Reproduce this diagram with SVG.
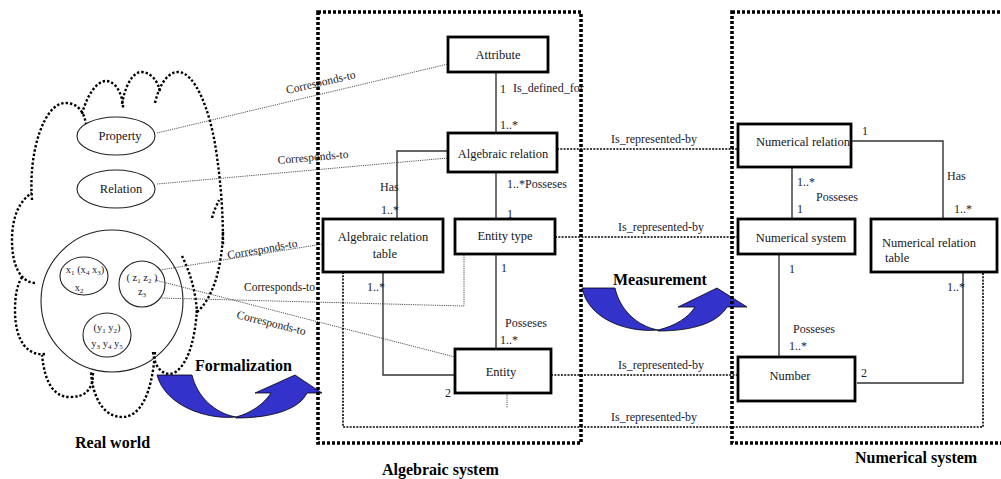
<svg xmlns="http://www.w3.org/2000/svg" width="1001" height="479" viewBox="0 0 1001 479">
  <style>
    .box { fill: none; stroke: #000; stroke-width: 2.8; }
    .node { font-family: "Liberation Serif", serif; font-size: 12.5px; fill: #151520; text-anchor: middle; }
    .lbl { font-family: "Liberation Serif", serif; font-size: 12px; fill: #1a1a30; }
    .corr-t { font-family: "Liberation Serif", serif; font-size: 11.5px; fill: #222; }
    .var { font-family: "Liberation Serif", serif; font-size: 10.5px; fill: #1a1a30; text-anchor: middle; }
    .sub { font-size: 7px; }
    .title { font-family: "Liberation Serif", serif; font-weight: bold; font-size: 16px; fill: #000; }
    .frame { fill: none; stroke: #000; stroke-width: 3.6; stroke-dasharray: 3 2; }
    .cloud { fill: none; stroke: #000; stroke-width: 2.4; stroke-dasharray: 2.4 2; }
    .ring { fill: none; stroke: #222; stroke-width: 1.1; }
    .assoc { fill: none; stroke: #333; stroke-width: 1.4; }
    .rep { fill: none; stroke: #000; stroke-width: 1.6; stroke-dasharray: 2 1.3; }
    .corr { fill: none; stroke: #555; stroke-width: 1; stroke-dasharray: 1.2 1; }
    .flow { fill: #3333cc; stroke: #000; stroke-width: 0.8; }
  </style>

  <!-- Real world cloud -->
  <g id="real-world">
    <path class="cloud" d="M32,200 C28,150 45,103 65,103 C78,103 84,112 86,124"/>
    <path class="cloud" d="M82,114 C88,92 98,81 106,81 C116,81 123,95 123,108"/>
    <path class="cloud" d="M122,104 C125,86 133,72 141,72 C150,72 158,80 160,92"/>
    <path class="cloud" d="M155,103 C160,82 169,72 178,72 C195,72 210,110 216,150 C222,190 223,220 223,245"/>
    <path class="cloud" d="M212,218 C214,210 217,205 219,200"/>
    <path class="cloud" d="M223,232 C222,268 213,298 197,312"/>
    <path class="cloud" d="M182,256 C190,272 196,292 197,313"/>
    <path class="cloud" d="M153,352 C155,372 168,378 177,371 C190,360 195,336 197,310"/>
    <path class="cloud" d="M155,352 C152,395 140,417 122,417 C105,417 93,400 91,372"/>
    <path class="cloud" d="M93,373 C93,390 85,397 70,397 C55,397 45,385 42,355"/>
    <path class="cloud" d="M45,354 C28,356 15,342 15,310 C15,296 17,285 22,277"/>
    <path class="cloud" d="M35,283 C20,282 12,265 12,240 C12,216 20,200 32,193"/>
    <text class="title" x="75" y="448">Real world</text>
  </g>

  <g id="property">
    <ellipse class="ring" cx="116" cy="136" rx="39" ry="19"/>
    <text class="node" x="120" y="140" font-size="12">Property</text>
  </g>
  <g id="relation">
    <ellipse class="ring" cx="116" cy="189" rx="39" ry="19"/>
    <text class="node" x="121" y="193" font-size="12">Relation</text>
  </g>

  <g id="structure">
    <circle class="ring" cx="112" cy="301" r="71"/>
    <ellipse class="ring" cx="84" cy="276" rx="24" ry="19"/>
    <text class="var" x="85" y="273">x<tspan class="sub" dy="2">1</tspan><tspan dy="-2"> (x</tspan><tspan class="sub" dy="2">4</tspan><tspan dy="-2"> x</tspan><tspan class="sub" dy="2">3</tspan><tspan dy="-2">)</tspan></text>
    <text class="var" x="79" y="291">x<tspan class="sub" dy="2">2</tspan></text>
    <ellipse class="ring" cx="142" cy="284" rx="23" ry="23"/>
    <text class="var" x="142" y="281">( z<tspan class="sub" dy="2">1</tspan><tspan dy="-2"> z</tspan><tspan class="sub" dy="2">2</tspan><tspan dy="-2"> )</tspan></text>
    <text class="var" x="142" y="295">z<tspan class="sub" dy="2">3</tspan></text>
    <ellipse class="ring" cx="107" cy="335" rx="24" ry="22"/>
    <text class="var" x="107" y="331">(y<tspan class="sub" dy="2">1</tspan><tspan dy="-2"> y</tspan><tspan class="sub" dy="2">2</tspan><tspan dy="-2">)</tspan></text>
    <text class="var" x="107" y="347">y<tspan class="sub" dy="2">3</tspan><tspan dy="-2">  y</tspan><tspan class="sub" dy="2">4</tspan><tspan dy="-2"> y</tspan><tspan class="sub" dy="2">5</tspan></text>
  </g>

  <!-- Process arrows -->
  <g id="formalization">
    <path class="flow" d="M157,375 L192,375 C197,396 214,413 236,417 C205,420 165,405 157,375 Z"/>
    <path class="flow" d="M236,417 C251,413 264,404 271,393 L255,393 L295,375 L322,393 L307,393 C300,408 275,418 236,418 Z"/>
    <text class="title" x="195" y="371">Formalization</text>
  </g>
  <g id="measurement">
    <path class="flow" d="M582,288 L615,288 C620,310 637,326 658,330 C625,333 588,318 582,288 Z"/>
    <path class="flow" d="M658,330 C675,326 688,318 695,307 L678,307 L717,288 L747,307 L727,307 C718,322 695,331 658,331 Z"/>
    <text class="title" x="613" y="285">Measurement</text>
  </g>

  <!-- Connectors -->
  <g id="connectors">
    <!-- correspondences from the real world -->
    <path class="corr" d="M157,133 L448,64"/>
    <path class="corr" d="M157,184 L448,158"/>
    <path class="corr" d="M160,270 L323,244"/>
    <path class="corr" d="M160,298 L464,306 L464,254"/>
    <path class="corr" d="M155,280 L455,357"/>
    <path class="corr" d="M507,393 L507,408"/>
    <text class="corr-t" transform="translate(287,94) rotate(-13)">Corresponds-to</text>
    <text class="corr-t" transform="translate(278,164) rotate(-5)">Corresponds-to</text>
    <text class="corr-t" transform="translate(228,259) rotate(-10)">Corresponds-to</text>
    <text class="corr-t" x="244" y="291">Corresponds-to</text>
    <text class="corr-t" transform="translate(236,318) rotate(14)">Corresponds-to</text>

    <!-- algebraic associations -->
    <path class="assoc" d="M496,72 L496,133"/>
    <path class="assoc" d="M448,151 L397,151 L397,219"/>
    <path class="assoc" d="M496,172 L496,219"/>
    <path class="assoc" d="M496,254 L496,349"/>
    <path class="assoc" d="M383,272 L383,375 L455,375"/>
    <text class="lbl" x="500" y="93">1</text>
    <text class="lbl" x="513" y="92">Is_defined_for</text>
    <text class="lbl" x="500" y="129">1..*</text>
    <text class="lbl" x="380" y="191">Has</text>
    <text class="lbl" x="381" y="214">1..*</text>
    <text class="lbl" x="507" y="188">1..*Posseses</text>
    <text class="lbl" x="507" y="218">1</text>
    <text class="lbl" x="501" y="272">1</text>
    <text class="lbl" x="505" y="327">Posseses</text>
    <text class="lbl" x="500" y="344">1..*</text>
    <text class="lbl" x="367" y="291">1..*</text>
    <text class="lbl" x="445" y="397">2</text>

    <!-- representation links -->
    <path class="rep" d="M557,149 L738,149"/>
    <path class="rep" d="M555,237 L738,237"/>
    <path class="rep" d="M551,375 L738,375"/>
    <path class="rep" d="M343,272 L343,427 L983,427 L983,272"/>
    <text class="lbl" x="611" y="143">Is_represented-by</text>
    <text class="lbl" x="618" y="231">Is_represented-by</text>
    <text class="lbl" x="618" y="369">Is_represented-by</text>
    <text class="lbl" x="611" y="421">Is_represented-by</text>

    <!-- numerical associations -->
    <path class="assoc" d="M792,167 L792,219"/>
    <path class="assoc" d="M851,141 L943,141 L943,219"/>
    <path class="assoc" d="M779,254 L779,357"/>
    <path class="assoc" d="M857,383 L963,383 L963,272"/>
    <text class="lbl" x="862" y="135">1</text>
    <text class="lbl" x="797" y="186">1..*</text>
    <text class="lbl" x="816" y="201">Posseses</text>
    <text class="lbl" x="797" y="213">1</text>
    <text class="lbl" x="947" y="180">Has</text>
    <text class="lbl" x="954" y="213">1..*</text>
    <text class="lbl" x="789" y="273">1</text>
    <text class="lbl" x="947" y="291">1..*</text>
    <text class="lbl" x="793" y="333">Posseses</text>
    <text class="lbl" x="789" y="350">1..*</text>
    <text class="lbl" x="861" y="377">2</text>
  </g>

  <!-- Algebraic system nodes -->
  <g id="attribute">
    <rect class="box" x="448" y="37" width="100" height="35"/>
    <text class="node" x="498" y="59">Attribute</text>
  </g>
  <g id="algebraic-relation">
    <rect class="box" x="448" y="133" width="109" height="39"/>
    <text class="node" x="503" y="158">Algebraic relation</text>
  </g>
  <g id="algebraic-relation-table">
    <rect class="box" x="323" y="219" width="120" height="53"/>
    <text class="node" x="383" y="241">Algebraic relation</text>
    <text class="node" x="385" y="258">table</text>
  </g>
  <g id="entity-type">
    <rect class="box" x="455" y="219" width="100" height="35"/>
    <text class="node" x="505" y="240">Entity type</text>
  </g>
  <g id="entity">
    <rect class="box" x="455" y="349" width="96" height="44"/>
    <text class="node" x="501" y="376">Entity</text>
  </g>

  <!-- Numerical system nodes -->
  <g id="numerical-relation">
    <text class="node" x="756" y="146" text-anchor="start" style="text-anchor:start">Numerical relation</text>
    <rect class="box" x="738" y="124" width="113" height="43"/>
  </g>
  <g id="numerical-system">
    <rect class="box" x="738" y="219" width="117" height="35"/>
    <text class="node" x="801" y="242">Numerical system</text>
  </g>
  <g id="numerical-relation-table">
    <rect class="box" x="871" y="219" width="126" height="53"/>
    <text class="node" x="882" y="247" style="text-anchor:start">Numerical relation</text>
    <text class="node" x="885" y="262" style="text-anchor:start">table</text>
  </g>
  <g id="number">
    <rect class="box" x="738" y="357" width="117" height="44"/>
    <text class="node" x="790" y="380">Number</text>
  </g>

  <!-- System frames -->
  <g id="algebraic-system">
    <rect class="frame" x="318" y="12" width="263" height="431"/>
    <text class="title" x="382" y="475">Algebraic system</text>
  </g>
  <g id="numerical-system-frame">
    <rect class="frame" x="732" y="12" width="275" height="431"/>
    <text class="title" x="855" y="463">Numerical system</text>
  </g>
</svg>
